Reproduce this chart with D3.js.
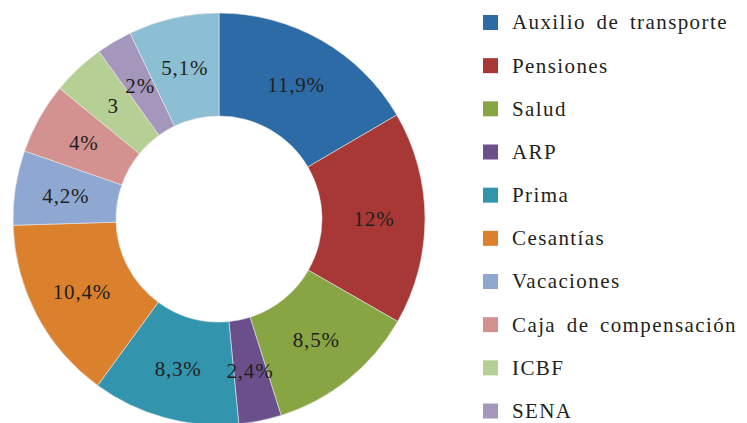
<!DOCTYPE html>
<html><head><meta charset="utf-8">
<script src="https://cdn.jsdelivr.net/npm/d3@7"></script>
<style>html,body{margin:0;padding:0;background:#fff;}
text{font-family:"Liberation Serif","Times New Roman",serif;}</style>
</head><body>
<svg id="chart" width="747" height="423"></svg>
<script>
const categories = ["Auxilio de transporte","Pensiones","Salud","ARP","Prima","Cesantías","Vacaciones","Caja de compensación","ICBF","SENA",""];
const values = [11.9, 12, 8.5, 2.4, 8.3, 10.4, 4.2, 4, 3, 2, 5.1];
const labels = ["11,9%","12%","8,5%","2,4%","8,3%","10,4%","4,2%","4%","3","2%","5,1%"];
const colors = ["#2d6ba6","#a83836","#87a543","#6a4f8b","#3394ae","#db802d","#8fa8d1","#d3918f","#b6cf94","#a596bc","#8cbfd3"];

const svg = d3.select("#chart");
const cx = 219, cy = 219, rOuter = 206, rInner = 103;
const g = svg.append("g").attr("transform", `translate(${cx},${cy})`);
const data = values.map((v,i)=>({v, i}));
const pie = d3.pie().value(d=>d.v).sort(null);
const arc = d3.arc().innerRadius(rInner).outerRadius(rOuter);
const labelArc = d3.arc().innerRadius(rInner + 52).outerRadius(rInner + 52);
const arcs = pie(data);
g.selectAll("path").data(arcs).join("path")
  .attr("d", arc)
  .attr("fill", d=>colors[d.data.i])
  .attr("stroke", "#e8e8e8").attr("stroke-width", 0.6);
g.selectAll("text").data(arcs).join("text")
  .attr("transform", d=>`translate(${labelArc.centroid(d)})`)
  .attr("text-anchor","middle").attr("dy","0.35em")
  .attr("font-size", 21)
  .attr("letter-spacing", 0.8)
  .attr("fill","#231f20")
  .text(d=>labels[d.data.i]);

const legendY = d3.scalePoint().domain(d3.range(10)).range([22.5, 411]);
const leg = svg.append("g");
const items = leg.selectAll("g").data(d3.range(10)).join("g")
  .attr("transform", i=>`translate(483,${legendY(i)})`);
items.append("rect").attr("x",0).attr("y",-7.5).attr("width",15).attr("height",15)
  .attr("fill", i=>colors[i]);
items.append("text").attr("x",29).attr("dy","0.33em")
  .attr("font-size",21)
  .attr("letter-spacing",1.4).attr("word-spacing",4)
  .attr("fill","#231f20")
  .text(i=>categories[i]);
</script>
</body></html>
